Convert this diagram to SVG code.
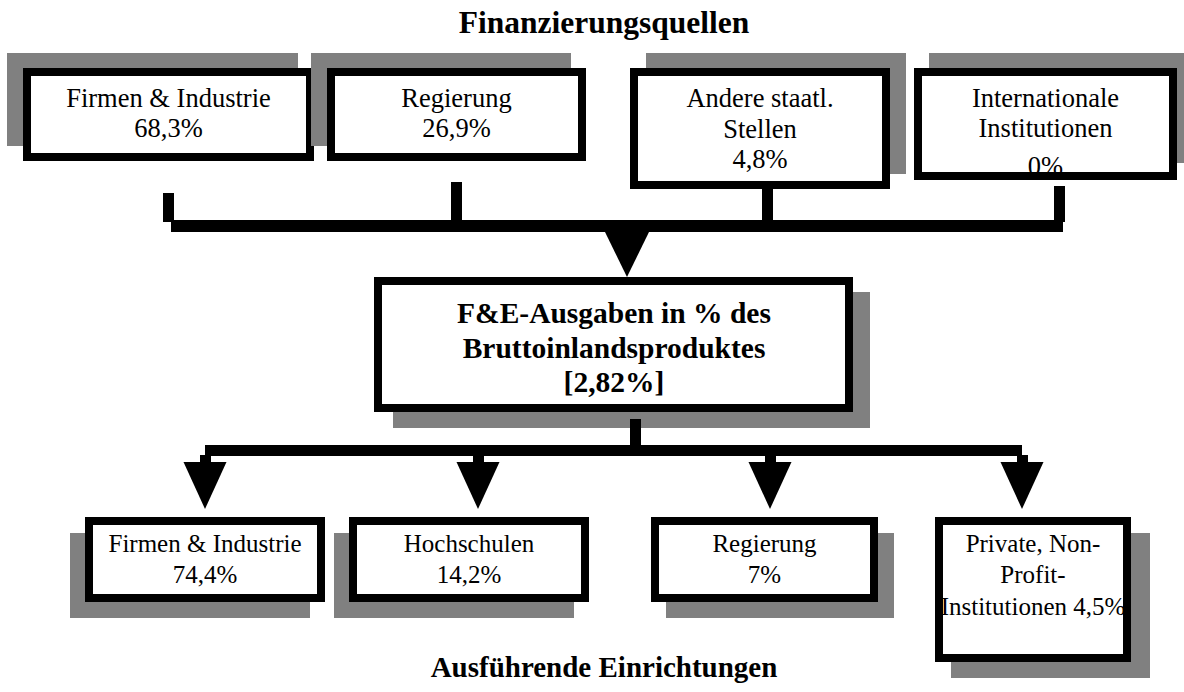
<svg xmlns="http://www.w3.org/2000/svg" width="1184" height="692" viewBox="0 0 1184 692">
<style>
.sh{fill:#808080}
.bg{fill:#fff}
.bd{fill:none;stroke:#000;stroke-width:8}
.t{font-family:"Liberation Serif","Times New Roman",serif;font-size:25px;fill:#000;text-anchor:middle}
.tt{font-size:26.5px}
.b{font-family:"Liberation Serif","Times New Roman",serif;font-weight:bold;fill:#000;text-anchor:middle}
.k{fill:#000}
</style>
<rect width="1184" height="692" fill="#fff"/>
<text class="b" x="604" y="33" font-size="31.5">Finanzierungsquellen</text>
<g id="src1">
<rect class="sh" x="7" y="53" width="291" height="93"/>
<rect class="bg" x="27" y="72" width="283" height="85"/>
<text class="t tt" x="168.5" y="107">Firmen &amp; Industrie</text>
<text class="t tt" x="168.5" y="137">68,3%</text>
<rect class="bd" x="27" y="72" width="283" height="85"/>
</g>
<g id="src2">
<rect class="sh" x="311" y="53" width="260" height="93"/>
<rect class="bg" x="331" y="72" width="251" height="85"/>
<text class="t tt" x="456.5" y="107">Regierung</text>
<text class="t tt" x="456.5" y="137">26,9%</text>
<rect class="bd" x="331" y="72" width="251" height="85"/>
</g>
<g id="src3">
<rect class="sh" x="646" y="53" width="260" height="121"/>
<rect class="bg" x="634" y="72" width="252" height="113"/>
<text class="t tt" x="760" y="107">Andere staatl.</text>
<text class="t tt" x="760" y="138">Stellen</text>
<text class="t tt" x="760" y="168">4,8%</text>
<rect class="bd" x="634" y="72" width="252" height="113"/>
</g>
<g id="src4">
<rect class="sh" x="929" y="53" width="263" height="110"/>
<rect class="bg" x="918" y="72" width="255" height="104"/>
<text class="t tt" x="1045.5" y="107">Internationale</text>
<text class="t tt" x="1045.5" y="137">Institutionen</text>
<text class="t tt" x="1045.5" y="175">0%</text>
<rect class="bd" x="918" y="72" width="255" height="104"/>
</g>
<g id="center">
<rect class="sh" x="393" y="292" width="477" height="136"/>
<rect class="bg" x="378" y="281" width="471" height="127"/>
<text class="b" x="614" y="323" font-size="29.5">F&amp;E-Ausgaben in % des</text>
<text class="b" x="614" y="358" font-size="29.5">Bruttoinlandsproduktes</text>
<text class="b" x="614" y="392" font-size="29.5">[2,82%]</text>
<rect class="bd" x="378" y="281" width="471" height="127"/>
</g>
<g id="dst1">
<rect class="sh" x="70" y="533" width="240" height="85"/>
<rect class="bg" x="89" y="521" width="232" height="77"/>
<text class="t" x="205" y="552">Firmen &amp; Industrie</text>
<text class="t" x="205" y="583">74,4%</text>
<rect class="bd" x="89" y="521" width="232" height="77"/>
</g>
<g id="dst2">
<rect class="sh" x="334" y="533" width="240" height="85"/>
<rect class="bg" x="353" y="521" width="232" height="77"/>
<text class="t" x="469" y="552">Hochschulen</text>
<text class="t" x="469" y="583">14,2%</text>
<rect class="bd" x="353" y="521" width="232" height="77"/>
</g>
<g id="dst3">
<rect class="sh" x="666" y="533" width="228" height="85"/>
<rect class="bg" x="655" y="521" width="219" height="77"/>
<text class="t" x="764.5" y="552">Regierung</text>
<text class="t" x="764.5" y="583">7%</text>
<rect class="bd" x="655" y="521" width="219" height="77"/>
</g>
<g id="dst4">
<rect class="sh" x="951" y="533" width="199" height="145"/>
<rect class="bg" x="939" y="521" width="188" height="137"/>
<text class="t" x="1033" y="552">Private, Non-</text>
<text class="t" x="1033" y="583">Profit-</text>
<text class="t" x="1033" y="615">Institutionen 4,5%</text>
<rect class="bd" x="939" y="521" width="188" height="137"/>
</g>
<g id="connectors">
<rect class="k" x="163" y="193" width="11" height="29"/>
<rect class="k" x="171" y="220" width="892" height="12"/>
<rect class="k" x="451" y="182" width="11" height="38"/>
<rect class="k" x="762" y="185" width="11" height="35"/>
<rect class="k" x="1054" y="186" width="11" height="36"/>
<polygon class="k" points="605,232 649,232 627,277"/>
<rect class="k" x="630" y="419" width="11" height="26"/>
<rect class="k" x="205" y="445" width="817" height="11"/>
<rect class="k" x="200" y="455" width="11" height="8"/>
<polygon class="k" points="183.5,462 226.5,462 205,509"/>
<rect class="k" x="473" y="455" width="11" height="8"/>
<polygon class="k" points="456.5,462 499.5,462 478,509"/>
<rect class="k" x="765" y="455" width="11" height="8"/>
<polygon class="k" points="748.5,462 791.5,462 770,509"/>
<rect class="k" x="1017" y="455" width="11" height="8"/>
<polygon class="k" points="1000.5,462 1043.5,462 1022,509"/>
</g>
<text class="b" x="604" y="677" font-size="29">Ausführende Einrichtungen</text>
</svg>
